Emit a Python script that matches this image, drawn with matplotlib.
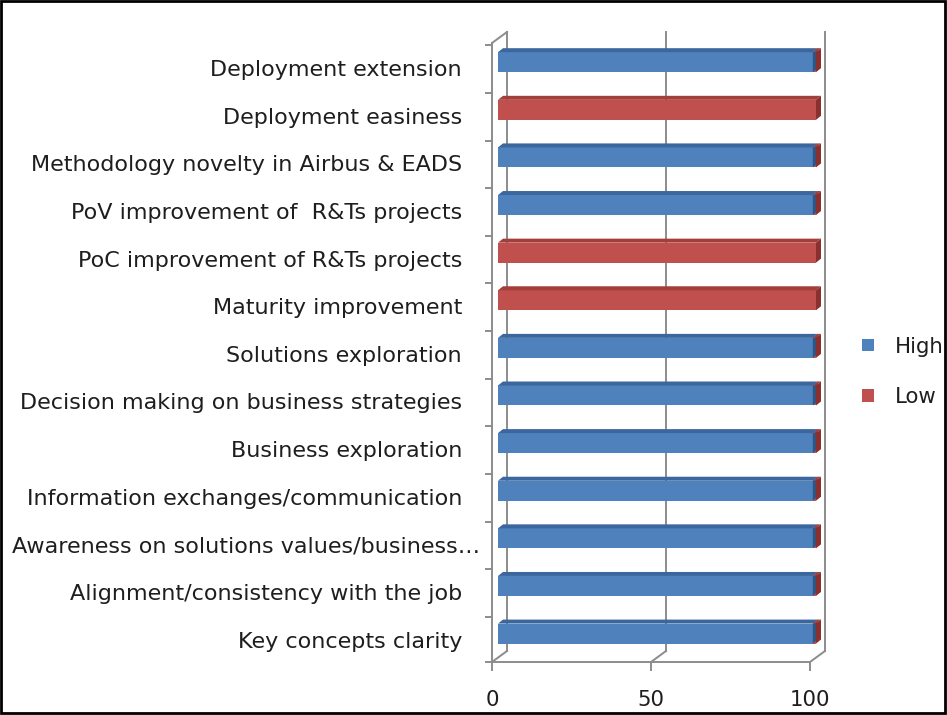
import matplotlib
matplotlib.use("Agg")
import matplotlib.pyplot as plt
from matplotlib.patches import Polygon, Rectangle
from matplotlib.transforms import ScaledTranslation

# Criteria, listed bottom to top
categories = [
    "Key concepts clarity",
    "Alignment/consistency with the job",
    "Awareness on solutions values/business\u2026",
    "Information exchanges/communication",
    "Business exploration",
    "Decision making on business strategies",
    "Solutions exploration",
    "Maturity improvement",
    "PoC improvement of R&Ts projects",
    "PoV improvement of  R&Ts projects",
    "Methodology novelty in Airbus & EADS",
    "Deployment easiness",
    "Deployment extension",
]
high = [99, 99, 99, 99, 99, 99, 99, 0, 0, 99, 99, 0, 99]
low = [1, 1, 1, 1, 1, 1, 1, 100, 100, 1, 1, 100, 1]
x_ticks = [0, 50, 100]

BLUE, BLUE_TOP, BLUE_SIDE = "#4F81BD", "#3B679E", "#2F5584"
RED, RED_TOP, RED_SIDE = "#C0504D", "#A33E3B", "#8A302E"
GRID = "#8C8C8C"
TEXT = "#1E1E1E"
FONT = "DejaVu Sans"
FS_CAT = 16.0
FS = 15.3

W, H, DPI = 947, 715, 100
fig = plt.figure(figsize=(W / DPI, H / DPI), dpi=DPI)
fig.patch.set_facecolor("white")

# axes spans the front plane of the pseudo-3D plot area
x0_px, x1_px, yb_px, yt_px = 492, 810, 662, 43
ax = fig.add_axes([x0_px / W, 1 - yb_px / H, (x1_px - x0_px) / W, (yb_px - yt_px) / H])
ax.set_xlim(0, 100)
ax.set_ylim(-0.45, 12.55)
ax.axis("off")

def shift(dx_px, dy_px):
    return ax.transData + ScaledTranslation(dx_px / DPI, dy_px / DPI, fig.dpi_scale_trans)

# back wall / floor offset
bdx, bdy = 15, 11
back = shift(bdx, bdy)
lw = 1.4
n = len(categories)
ylo, yhi = -0.45, 12.55
inv = ax.transData.inverted()

def to_front(tr, pt):
    return inv.transform(tr.transform(pt))

# back wall gridlines
for xv in x_ticks:
    ax.plot([xv, xv], [ylo, yhi], color=GRID, lw=lw, transform=back, clip_on=False)
# floor diagonals at each gridline
for xv in x_ticks:
    b = to_front(back, (xv, ylo))
    ax.plot([xv, b[0]], [ylo, b[1]], color=GRID, lw=lw, clip_on=False)
# left wall: front edge and top diagonal
ax.plot([0, 0], [ylo, yhi], color=GRID, lw=lw, clip_on=False)
b = to_front(back, (0, yhi))
ax.plot([0, b[0]], [yhi, b[1]], color=GRID, lw=lw, clip_on=False)
# front floor edge
ax.plot([0, 100], [ylo, ylo], color=GRID, lw=lw, clip_on=False)

# category boundary ticks on the left edge
for k in range(n + 1):
    yb = max(k - 0.5, ylo)
    ax.plot([-2.0, 0], [yb, yb], color=GRID, lw=lw, clip_on=False)
# value ticks under the floor
for xv in x_ticks:
    ax.plot([xv, xv], [ylo, ylo - 0.17], color=GRID, lw=lw, clip_on=False)

# bars sit at mid depth
bar_tr = shift(6, 7)
ypos = list(range(n))
bh = 0.42
b_high = ax.barh(ypos, high, height=bh, color=BLUE, label="High",
                 transform=bar_tr, clip_on=False, zorder=3)
b_low = ax.barh(ypos, low, left=high, height=bh, color=RED, label="Low",
                transform=bar_tr, clip_on=False, zorder=3)

# depth faces for every bar segment
ddx, ddy = 5, 4
for bars, top_c, side_c in ((b_high, BLUE_TOP, BLUE_SIDE), (b_low, RED_TOP, RED_SIDE)):
    for r in bars:
        if r.get_width() <= 0:
            continue
        x, y, w, h = r.get_x(), r.get_y(), r.get_width(), r.get_height()
        pts = [bar_tr.transform(p) for p in ((x, y + h), (x + w, y + h), (x + w, y))]
        (xl, yt), (xr, _), (_, ybm) = pts
        top = [(xl, yt), (xr, yt), (xr + ddx, yt + ddy), (xl + ddx, yt + ddy)]
        side = [(xr, ybm), (xr, yt), (xr + ddx, yt + ddy), (xr + ddx, ybm + ddy)]
        for poly, c in ((top, top_c), (side, side_c)):
            ax.add_patch(Polygon(poly, closed=True, facecolor=c, edgecolor="none",
                                 transform=None, zorder=3, clip_on=False))

# category labels (the truncated one runs a little further right)
for i, name in enumerate(categories):
    xr = -3.7 if name.endswith("\u2026") else -9.4
    ax.text(xr, i - 0.02, name, ha="right", va="center", fontsize=FS_CAT,
            family=FONT, color=TEXT, clip_on=False)
# value labels
for xv in x_ticks:
    ax.text(xv, ylo - 0.8, str(xv), ha="center", va="center", fontsize=FS,
            family=FONT, color=TEXT, clip_on=False)

leg = fig.legend(handles=[b_high, b_low], labels=["High", "Low"],
                 loc="center left", bbox_to_anchor=(843 / W, 1 - 372 / H),
                 frameon=False, handlelength=0.55, handleheight=0.55,
                 handletextpad=1.0, labelspacing=1.45,
                 prop={"family": FONT, "size": FS})
for t in leg.get_texts():
    t.set_color(TEXT)

# outer frame
fig.add_artist(Rectangle((1 / W, 2 / H), (W - 3) / W, (H - 3) / H, transform=fig.transFigure,
                         fill=False, edgecolor="black", lw=2))

fig.savefig("out.png", dpi=DPI)
